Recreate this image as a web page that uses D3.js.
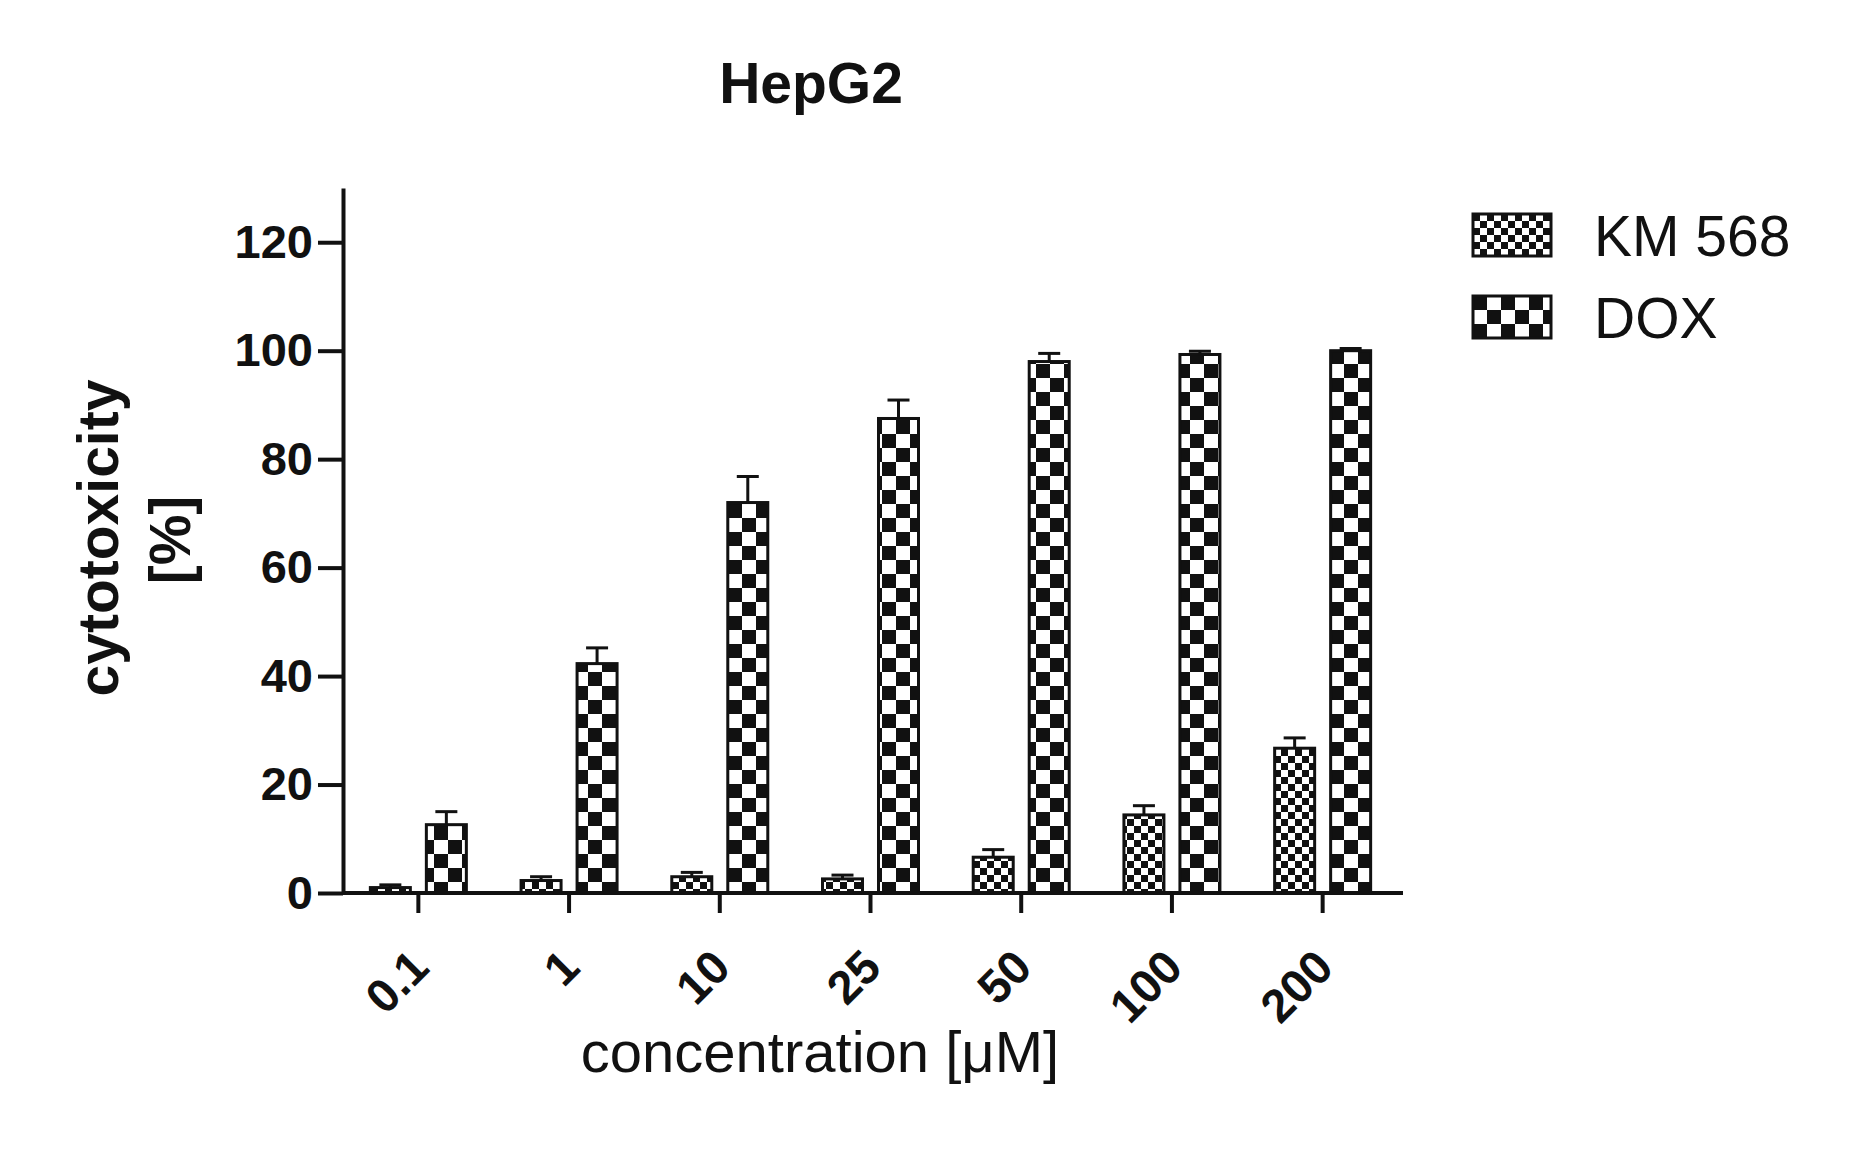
<!DOCTYPE html>
<html>
<head>
<meta charset="utf-8">
<script src="https://cdn.jsdelivr.net/npm/d3@7"></script>
<style>
  html, body { margin: 0; padding: 0; background: #fff; }
  svg { display: block; }
</style>
</head>
<body>
<svg id="chart" width="1850" height="1151"></svg>
<script>
// values
const concentrations = ["0.1", "1", "10", "25", "50", "100", "200"];
const seriesNames = ["KM 568", "DOX"];
const km568Mean = [1.0, 2.3, 3.0, 2.6, 6.6, 14.4, 26.7];
const km568Err = [0.5, 0.7, 0.8, 0.7, 1.4, 1.7, 1.9];
const doxMean = [12.6, 42.3, 72.0, 87.5, 98.0, 99.3, 100.0];
const doxErr = [2.4, 2.9, 4.8, 3.4, 1.5, 0.6, 0.4];
const yTicks = [0, 20, 40, 60, 80, 100, 120];

const ink = '#111';
const font = '"Liberation Sans", Arial, sans-serif';

const svg = d3.select('#chart');

// checker patterns: fine for KM 568, coarse for DOX
const defs = svg.append('defs');
function checker(id, cell) {
  const p = defs.append('pattern')
    .attr('id', id)
    .attr('patternUnits', 'userSpaceOnUse')
    .attr('width', cell * 2)
    .attr('height', cell * 2);
  p.append('rect').attr('width', cell * 2).attr('height', cell * 2).attr('fill', '#fff');
  p.append('rect').attr('width', cell).attr('height', cell).attr('fill', ink);
  p.append('rect').attr('x', cell).attr('y', cell).attr('width', cell).attr('height', cell).attr('fill', ink);
}
checker('pat-km', 7);
checker('pat-dox', 14);
const fills = ['url(#pat-km)', 'url(#pat-dox)'];

const x = d3.scaleBand()
  .domain(concentrations)
  .range([343, 1398]);

const xs = d3.scaleBand()
  .domain(seriesNames)
  .range([-48, 48])
  .paddingInner(16 / 56);

const y = d3.scaleLinear()
  .domain([0, 130])
  .range([893, 188]);

const rows = [];
concentrations.forEach((c, i) => {
  rows.push({ c, s: seriesNames[0], v: km568Mean[i], e: km568Err[i], k: 0 });
  rows.push({ c, s: seriesNames[1], v: doxMean[i], e: doxErr[i], k: 1 });
});
const cx = d => x(d.c) + x.bandwidth() / 2 + xs(d.s);

// bars
svg.append('g')
  .selectAll('rect')
  .data(rows)
  .enter().append('rect')
    .attr('x', d => cx(d))
    .attr('y', d => y(d.v))
    .attr('width', xs.bandwidth())
    .attr('height', d => y(0) - y(d.v))
    .attr('fill', d => fills[d.k])
    .attr('stroke', ink)
    .attr('stroke-width', 3);

// upper error bars
const err = svg.append('g')
  .attr('stroke', ink)
  .attr('stroke-width', 3);
err.selectAll('line.stem')
  .data(rows)
  .enter().append('line')
    .attr('class', 'stem')
    .attr('x1', d => cx(d) + xs.bandwidth() / 2)
    .attr('x2', d => cx(d) + xs.bandwidth() / 2)
    .attr('y1', d => y(d.v))
    .attr('y2', d => y(d.v + d.e));
err.selectAll('line.cap')
  .data(rows)
  .enter().append('line')
    .attr('class', 'cap')
    .attr('x1', d => cx(d) + xs.bandwidth() / 2 - 11)
    .attr('x2', d => cx(d) + xs.bandwidth() / 2 + 11)
    .attr('y1', d => y(d.v + d.e))
    .attr('y2', d => y(d.v + d.e));

// axes
const xAxis = svg.append('g')
  .attr('transform', `translate(0,${y(0)})`)
  .call(d3.axisBottom(x).tickSize(20).tickSizeOuter(0));
xAxis.select('.domain').attr('d', `M343,0H1403`);
xAxis.selectAll('text')
  .attr('text-anchor', 'end')
  .attr('dy', null)
  .attr('y', null)
  .attr('transform', 'translate(13,77) rotate(-45)');

const yAxis = svg.append('g')
  .attr('transform', 'translate(343,0)')
  .call(d3.axisLeft(y).tickValues(yTicks).tickSize(25).tickPadding(5).tickSizeOuter(0));

svg.selectAll('.domain, .tick line')
  .attr('stroke', ink)
  .attr('stroke-width', 4);
svg.selectAll('.tick text')
  .attr('fill', ink)
  .style('font-family', font)
  .style('font-weight', 'bold')
  .style('font-size', '47px');

// titles
svg.append('text')
  .attr('x', 811).attr('y', 103)
  .attr('text-anchor', 'middle')
  .style('font-family', font).style('font-weight', 'bold').style('font-size', '57px')
  .attr('fill', ink)
  .text('HepG2');

svg.append('text')
  .attr('transform', 'translate(118,538) rotate(-90)')
  .attr('text-anchor', 'middle')
  .style('font-family', font).style('font-weight', 'bold').style('font-size', '57px')
  .attr('fill', ink)
  .text('cytotoxicity');
svg.append('text')
  .attr('transform', 'translate(190,540) rotate(-90)')
  .attr('text-anchor', 'middle')
  .style('font-family', font).style('font-weight', 'bold').style('font-size', '57px')
  .attr('fill', ink)
  .text('[%]');

svg.append('text')
  .attr('x', 820).attr('y', 1072)
  .attr('text-anchor', 'middle')
  .style('font-family', font).style('font-size', '58px')
  .attr('fill', ink)
  .text('concentration [\u03BCM]');

// legend
const legend = svg.append('g')
  .selectAll('g')
  .data(seriesNames)
  .enter().append('g')
    .attr('transform', (d, i) => `translate(1473,${214 + i * 82})`);
legend.append('rect')
  .attr('width', 78).attr('height', 42)
  .attr('fill', (d, i) => fills[i])
  .attr('stroke', ink)
  .attr('stroke-width', 3);
legend.append('text')
  .attr('x', 121).attr('y', 42)
  .style('font-family', font).style('font-size', '57px')
  .attr('fill', ink)
  .text(d => d);
</script>
</body>
</html>
